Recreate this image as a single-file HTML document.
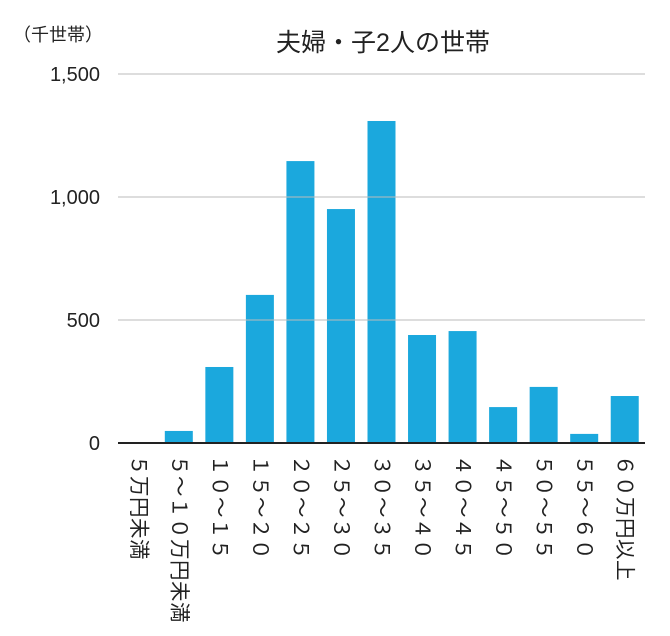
<!DOCTYPE html>
<html><head><meta charset="utf-8"><style>
body{margin:0;background:#fff;width:670px;height:636px;overflow:hidden;font-family:"Liberation Sans","Noto Sans CJK JP",sans-serif;}
.lbl{position:absolute;writing-mode:vertical-rl;text-orientation:sideways;font-size:20.5px;color:#222;top:455px;line-height:21px;letter-spacing:0.5px;}
</style></head><body>
<div id="chart" style="position:relative;width:670px;height:636px;">
<div style="position:absolute;left:13px;top:21px;font-size:18px;color:#222;">（千世帯）</div>
<div style="position:absolute;left:0;width:766px;text-align:center;top:23px;font-size:25px;color:#222;">夫婦・子2人の世帯</div>
<svg id="svg" width="670" height="636" style="position:absolute;left:0;top:0"></svg>
</div>
<script>
const categories=["５万円未満","５～１０万円未満","１０～１５","１５～２０","２０～２５","２５～３０","３０～３５","３５～４０","４０～４５","４５～５０","５０～５５","５５～６０","６０万円以上"];
const values=[0,49,309,602,1146,951,1309,439,455,146,228,37,191];
const ticks=[0,500,1000,1500];
const tickLabels=["0","500","1,000","1,500"];
const ns="http://www.w3.org/2000/svg";
const svg=document.getElementById('svg');
const chart=document.getElementById('chart');
const x0=118,x1=645,y0=443,yTop=74,yMax=1500;
const band=(x1-x0)/categories.length;
const yS=v=>y0-(v/yMax)*(y0-yTop);
const xC=i=>x0+band*(i+0.5);
ticks.forEach((t,i)=>{
 const l=document.createElementNS(ns,'line');
 l.setAttribute('x1',x0);l.setAttribute('x2',x1);l.setAttribute('y1',yS(t));l.setAttribute('y2',yS(t));
 l.setAttribute('stroke',t===0?'#222':'#bbb');l.setAttribute('stroke-width',t===0?2:1);
 
 
 svg.appendChild(l);
 const tx=document.createElementNS(ns,'text');
 tx.setAttribute('x',100);tx.setAttribute('y',yS(t)+7);tx.setAttribute('text-anchor','end');
 tx.setAttribute('font-size','20');tx.setAttribute('fill','#222');
 tx.setAttribute('font-family','Liberation Sans, sans-serif');
 tx.textContent=tickLabels[i];
 
 
 svg.appendChild(tx);
});
categories.forEach((c,i)=>{
 const r=document.createElementNS(ns,'rect');
 const w=28;
 r.setAttribute('x',xC(i)-w/2);r.setAttribute('width',w);
 r.setAttribute('y',yS(values[i]));r.setAttribute('height',y0-yS(values[i]));
 r.setAttribute('fill','#1ba8dd');
 
 
 svg.insertBefore(r,svg.firstChild);
 const d=document.createElement('div');
 d.className='lbl';
 d.style.left=(xC(i)-10.5)+'px';
 d.textContent=c;
 
 
 chart.appendChild(d);
});
</script>
</body></html>
